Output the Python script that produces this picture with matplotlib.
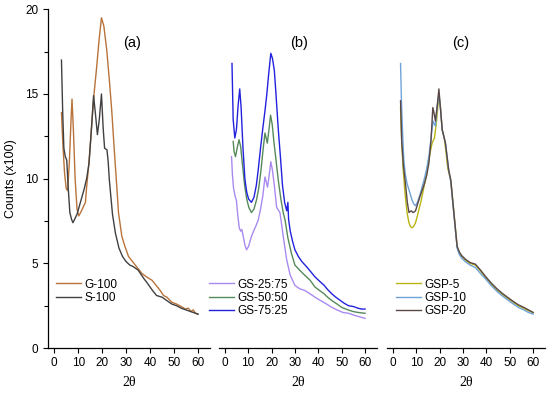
import numpy as np
import matplotlib.pyplot as plt
from matplotlib.ticker import MultipleLocator

plt.rcParams['font.family'] = ['Liberation Sans', 'DejaVu Sans']

# ---- panel (a) ----
tt_g100 = [3.0, 3.6, 4.3, 5.0, 5.6, 6.3, 7.0, 7.4, 8.0, 8.7, 9.5, 10.2, 11.0, 12.0, 13.0,
           13.5, 14.5, 15.6, 16.6, 17.7, 18.7, 19.7, 20.7, 21.9, 23.0, 24.0, 25.0, 26.1,
           26.8, 28.2, 29.5, 31.0, 33.8, 36.6, 38.5, 40.8, 42.5, 44.2, 45.6, 47.0, 49.1,
           51.0, 53.0, 54.7, 56.0, 57.0, 58.0, 59.0, 60.0]
g100 = [13.9, 12.0, 10.3, 9.4, 9.3, 11.0, 13.5, 14.7, 12.8, 10.0, 8.2, 7.8, 8.0, 8.3, 8.6,
        9.5, 11.0, 13.1, 15.0, 16.6, 18.2, 19.5, 19.0, 17.6, 15.8, 14.0, 11.8, 9.5,
        8.0, 6.6, 6.0, 5.4, 4.9, 4.4, 4.2, 4.0, 3.7, 3.4, 3.1, 3.0, 2.7,
        2.6, 2.45, 2.3, 2.35, 2.15, 2.25, 2.05, 2.0]

tt_s100 = [3.0, 3.5, 4.0, 4.6, 5.2, 5.8, 6.5, 7.2, 7.8, 8.5, 9.5, 10.5, 11.5, 12.5, 13.5,
           14.5, 15.3, 16.4, 17.2, 18.0, 18.8, 19.7, 20.4, 21.0, 22.0, 22.5, 23.0, 24.3,
           25.5, 27.0, 28.5, 30.0, 31.5, 33.0, 35.0, 37.4, 39.0, 41.0, 42.7, 45.0, 47.0,
           49.0, 51.0, 53.0, 55.0, 57.0, 59.0, 60.0]
s100 = [17.0, 14.0, 11.8, 11.3, 11.1, 9.5, 8.0, 7.6, 7.4, 7.6, 7.9, 8.4, 8.9, 9.4, 10.0,
        10.9, 12.5, 14.9, 13.8, 12.6, 13.5, 15.0, 13.0, 11.8, 11.7, 11.0, 9.9, 7.9,
        6.8, 5.9, 5.4, 5.1, 4.9, 4.8, 4.6, 4.1, 3.8, 3.4, 3.1, 3.0, 2.8,
        2.6, 2.5, 2.35, 2.25, 2.15, 2.05, 2.0]

# ---- panel (b) ----
tt_gs75 = [3.1, 3.6, 4.3, 5.0, 5.7, 6.4, 7.0, 7.8, 8.6, 9.4, 10.2, 11.4, 12.5, 13.5, 14.3,
           15.3, 16.3, 17.2, 18.0, 18.8, 19.7, 20.4, 21.2, 22.0, 22.9, 23.8, 24.7, 25.6,
           26.5, 27.0, 27.3, 28.0, 29.0, 30.0, 31.5, 33.0, 35.0, 36.8, 38.6, 40.5, 42.5,
           44.0, 45.8, 47.5, 49.5, 51.0, 52.9, 55.0, 57.0, 58.5, 60.0]
gs75 = [16.8, 13.5, 12.4, 12.9, 14.3, 15.3, 14.2, 11.8, 10.0, 9.2, 8.8, 8.6, 8.9, 9.6, 10.5,
        11.8, 13.0, 14.0, 15.0, 16.2, 17.4, 17.1, 16.4, 14.8, 12.9, 11.3, 9.6, 8.6,
        8.1, 8.6, 7.6, 6.9, 6.3, 5.8, 5.4, 5.1, 4.8, 4.5, 4.2, 3.95, 3.7,
        3.45, 3.2, 3.0, 2.8, 2.65, 2.5, 2.45, 2.35, 2.3, 2.3]

tt_gs50 = [3.6, 4.0, 4.6, 5.3, 6.1, 6.8, 7.6, 8.5, 9.4, 10.3, 11.4, 12.5, 13.5, 14.5, 15.5,
           16.3, 17.2, 18.2, 19.0, 19.6, 20.3, 21.0, 22.0, 22.9, 24.0, 25.0, 25.8, 27.0,
           28.5, 30.0, 32.0, 34.2, 36.5, 38.6, 40.5, 42.5, 44.0, 45.8, 48.0, 50.0, 52.9,
           55.0, 57.0, 60.0]
gs50 = [12.2, 11.6, 11.3, 11.8, 12.3, 11.9, 10.8, 9.6, 8.8, 8.3, 8.0, 8.2, 8.7, 9.4, 10.5,
        11.6, 12.7, 12.1, 13.0, 13.75, 13.2, 12.2, 11.0, 9.9, 8.8, 8.0, 7.55, 6.5,
        5.6, 4.9, 4.6, 4.3, 4.0, 3.6, 3.4, 3.2, 3.0, 2.8, 2.6, 2.4, 2.24,
        2.15, 2.1, 2.05]

tt_gs25 = [2.9, 3.3, 3.8, 4.4, 5.0, 5.6, 6.2, 6.8, 7.3, 7.9, 8.6, 9.3, 10.2, 11.2, 12.3,
           13.3, 14.3, 15.3, 16.3, 17.2, 18.3, 19.0, 19.7, 20.4, 21.2, 22.2, 23.6, 25.0,
           26.5, 28.0, 30.0, 32.0, 34.2, 36.5, 38.6, 41.0, 43.5, 45.8, 48.0, 50.5, 52.9,
           55.0, 57.5, 60.0]
gs25 = [11.3, 10.2, 9.4, 9.0, 8.7, 7.8, 7.1, 6.9, 7.0, 6.6, 6.1, 5.8, 6.0, 6.5, 6.9,
        7.2, 7.55, 8.2, 9.0, 10.1, 9.5, 10.2, 11.0, 10.5, 9.6, 8.3, 8.0, 6.6,
        5.2, 4.3, 3.7, 3.5, 3.4, 3.2, 3.0, 2.8, 2.6, 2.4, 2.25, 2.1, 2.05,
        1.95, 1.85, 1.75]

# ---- panel (c) ----
tt_gsp5 = [3.3, 3.8, 4.4, 5.0, 5.6, 6.2, 6.9, 7.6, 8.3, 9.0, 9.7, 10.4, 11.2, 12.1, 13.0,
           14.0, 15.0, 15.9, 16.8, 17.8, 18.7, 19.7, 20.5, 21.1, 22.0, 22.7, 23.5, 24.8,
           26.1, 27.5, 28.5, 29.5, 31.0, 33.0, 35.3, 37.5, 39.5, 42.0, 44.5, 46.6, 49.0,
           51.5, 53.7, 56.0, 58.0, 60.0]
gsp5 = [14.2, 12.2, 10.6, 9.5, 8.6, 7.9, 7.4, 7.15, 7.1, 7.2, 7.4, 7.75, 8.2, 8.7, 9.3,
        10.0, 10.8, 11.5, 12.1, 12.4, 13.4, 15.0, 14.0, 12.9, 12.4, 11.6, 10.6, 9.9,
        8.0, 6.0, 5.6, 5.4, 5.2, 5.0, 4.9, 4.55, 4.2, 3.8, 3.45, 3.2, 2.95,
        2.7, 2.5, 2.35, 2.2, 2.1]

tt_gsp10 = [3.3, 3.7, 4.2, 4.7, 5.3, 6.1, 7.0, 8.3, 9.0, 9.7, 10.5, 11.5, 12.5, 13.5, 14.5,
            15.5, 16.5, 17.2, 18.2, 19.0, 19.7, 20.5, 21.1, 22.5, 23.9, 24.8, 26.1, 27.5,
            28.5, 29.5, 31.0, 33.0, 35.3, 37.5, 39.5, 42.0, 44.5, 46.6, 49.0, 51.5, 53.7,
            56.0, 58.0, 60.0]
gsp10 = [16.8, 14.5, 12.6, 11.1, 10.3, 9.7, 9.3, 8.7, 8.5, 8.4, 8.6, 9.0, 9.5, 10.0, 10.6,
         11.4, 12.6, 13.4, 13.1, 14.3, 15.0, 14.0, 12.9, 12.1, 10.5, 9.8, 7.9, 5.9,
         5.5, 5.3, 5.1, 4.9, 4.75, 4.4, 4.1, 3.7, 3.35, 3.1, 2.85, 2.6, 2.4,
         2.25, 2.1, 2.0]

tt_gsp20 = [3.3, 3.8, 4.5, 5.4, 6.2, 6.9, 7.8, 8.7, 9.7, 10.6, 11.5, 12.5, 13.5, 14.5, 15.4,
            16.3, 17.1, 17.6, 18.2, 19.0, 19.7, 20.4, 21.1, 22.5, 23.9, 24.8, 26.1, 27.5,
            28.5, 29.5, 31.0, 33.0, 35.3, 37.5, 39.5, 42.0, 44.5, 46.6, 49.0, 51.5, 53.7,
            56.0, 58.0, 60.0]
gsp20 = [14.6, 12.2, 10.8, 9.7, 8.6, 8.0, 8.1, 8.0, 8.1, 8.5, 8.9, 9.3, 9.7, 10.2, 10.9,
         12.2, 14.2, 13.9, 13.4, 14.3, 15.3, 14.1, 12.9, 12.1, 10.5, 9.9, 8.0, 6.0,
         5.65, 5.45, 5.25, 5.05, 4.95, 4.6, 4.25, 3.85, 3.5, 3.25, 3.0, 2.75, 2.55,
         2.4, 2.25, 2.1]

panels = [
    ("(a)", 32.5, [(tt_g100, g100, "G-100", "#b8733a"),
                   (tt_s100, s100, "S-100", "#404040")]),
    ("(b)", 31.8, [(tt_gs25, gs25, "GS-25:75", "#a98af0"),
                   (tt_gs50, gs50, "GS-50:50", "#568a5a"),
                   (tt_gs75, gs75, "GS-75:25", "#2222dd")]),
    ("(c)", 29.0, [(tt_gsp5, gsp5, "GSP-5", "#b8b414"),
                   (tt_gsp10, gsp10, "GSP-10", "#6fa3d8"),
                   (tt_gsp20, gsp20, "GSP-20", "#5a4848")]),
]

boxes = [[0.0878, 0.1256, 0.294, 0.851],
         [0.398, 0.1256, 0.287, 0.851],
         [0.7036, 0.1256, 0.287, 0.851]]
leg_x = [0.05, -0.06, 0.06]

fig = plt.figure(figsize=(5.5, 3.98), dpi=100)

for i, (tag, tag_x, series) in enumerate(panels):
    ax = fig.add_axes(boxes[i])
    for tt, vals, lab, col in series:
        ax.plot(tt, vals, color=col, lw=1.0, label=lab)
    ax.set_xlim(-2.5, 65)
    ax.set_ylim(0, 20)
    ax.set_xticks([0, 10, 20, 30, 40, 50, 60])
    ax.spines['top'].set_visible(False)
    ax.spines['right'].set_visible(False)
    ax.spines['bottom'].set_linewidth(0.9)
    ax.tick_params(axis='x', direction='out', length=3.5, width=0.8, labelsize=8.5, pad=3)
    if i == 0:
        ax.spines['left'].set_linewidth(0.9)
        ax.set_yticks([0, 5, 10, 15, 20])
        ax.yaxis.set_minor_locator(MultipleLocator(2.5))
        ax.tick_params(axis='y', which='major', length=3.5, width=0.8, labelsize=8.5)
        ax.tick_params(axis='y', which='minor', length=3.0, width=0.8)
        ax.set_ylabel("Counts (x100)", fontsize=9, labelpad=6)
    else:
        ax.spines['left'].set_visible(False)
        ax.set_yticks([])
    ax.set_xlabel("2θ", family=['Liberation Serif', 'DejaVu Serif'], fontsize=10, labelpad=5)
    ax.text(tag_x, 18.0, tag, fontsize=10.5, ha='center', va='center')
    ax.legend(loc='upper left', bbox_to_anchor=(leg_x[i], 0.205), frameon=False,
              fontsize=8.5, handlelength=2.1, handletextpad=0.3, labelspacing=0.12,
              borderpad=0, borderaxespad=0)
    ax.patch.set_alpha(0)

fig.savefig("out.png", dpi=100)
